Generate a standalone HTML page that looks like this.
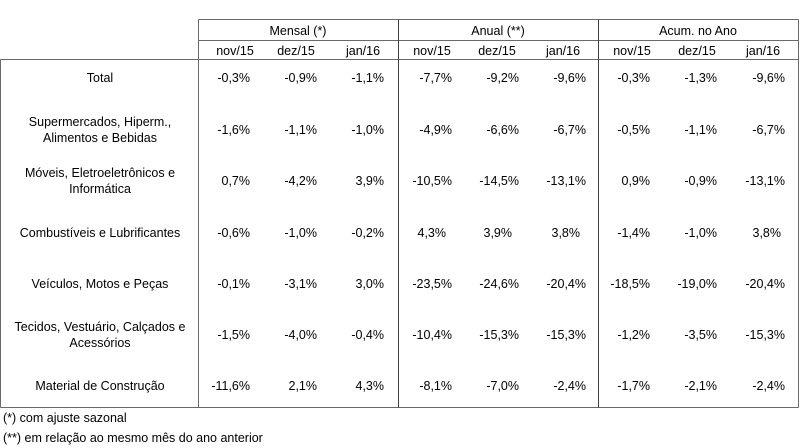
<!DOCTYPE html>
<html><head><meta charset="utf-8"><style>
html,body{margin:0;padding:0;background:#fff;}
svg{display:block;font-family:"Liberation Sans",Arial,sans-serif;font-size:12.5px;fill:#000;}
</style></head><body>
<svg width="800" height="448" viewBox="0 0 800 448">
<g stroke="#6a6a6a" stroke-width="1" fill="none">
<line x1="198.5" y1="19.5" x2="798.5" y2="19.5"/>
<line x1="198.5" y1="40.5" x2="798.5" y2="40.5"/>
<line x1="0.5" y1="59.5" x2="798.5" y2="59.5"/>
<line x1="0.5" y1="407.5" x2="798.5" y2="407.5"/>
<line x1="0.5" y1="59.5" x2="0.5" y2="407.5"/>
<line x1="198.5" y1="19.5" x2="198.5" y2="407.5"/>
<line x1="398.5" y1="19.5" x2="398.5" y2="407.5" stroke="#404040"/>
<line x1="598.5" y1="19.5" x2="598.5" y2="407.5" stroke="#404040"/>
<line x1="798.5" y1="19.5" x2="798.5" y2="407.5"/>
</g>
<g text-anchor="middle">
<text x="298" y="35">Mensal (*)</text>
<text x="498" y="35">Anual (**)</text>
<text x="698" y="35">Acum. no Ano</text>
</g>
<g text-anchor="middle">
<text x="235" y="55">nov/15</text><text x="296" y="55">dez/15</text><text x="363" y="55">jan/16</text>
<text x="432" y="55">nov/15</text><text x="497" y="55">dez/15</text><text x="563" y="55">jan/16</text>
<text x="632" y="55">nov/15</text><text x="697" y="55">dez/15</text><text x="763" y="55">jan/16</text>
</g>
<g text-anchor="middle">
<text x="100" y="82">Total</text>
<text x="100" y="126">Supermercados, Hiperm.,</text><text x="100" y="142">Alimentos e Bebidas</text>
<text x="100" y="177">Móveis, Eletroeletrônicos e</text><text x="100" y="193">Informática</text>
<text x="100" y="237">Combustíveis e Lubrificantes</text>
<text x="100" y="288">Veículos, Motos e Peças</text>
<text x="100" y="331">Tecidos, Vestuário, Calçados e</text><text x="100" y="347">Acessórios</text>
<text x="100" y="390">Material de Construção</text>
</g>
<g text-anchor="end">
<g><text x="250" y="82">-0,3%</text><text x="317" y="82">-0,9%</text><text x="384" y="82">-1,1%</text><text x="452" y="82">-7,7%</text><text x="519" y="82">-9,2%</text><text x="586" y="82">-9,6%</text><text x="650" y="82">-0,3%</text><text x="717" y="82">-1,3%</text><text x="785" y="82">-9,6%</text></g>
<g><text x="250" y="134">-1,6%</text><text x="317" y="134">-1,1%</text><text x="384" y="134">-1,0%</text><text x="452" y="134">-4,9%</text><text x="519" y="134">-6,6%</text><text x="586" y="134">-6,7%</text><text x="650" y="134">-0,5%</text><text x="717" y="134">-1,1%</text><text x="785" y="134">-6,7%</text></g>
<g><text x="250" y="185">0,7%</text><text x="317" y="185">-4,2%</text><text x="384" y="185">3,9%</text><text x="452" y="185">-10,5%</text><text x="519" y="185">-14,5%</text><text x="586" y="185">-13,1%</text><text x="650" y="185">0,9%</text><text x="717" y="185">-0,9%</text><text x="785" y="185">-13,1%</text></g>
<g><text x="250" y="237">-0,6%</text><text x="317" y="237">-1,0%</text><text x="384" y="237">-0,2%</text><text x="446" y="237">4,3%</text><text x="512" y="237">3,9%</text><text x="580" y="237">3,8%</text><text x="650" y="237">-1,4%</text><text x="717" y="237">-1,0%</text><text x="781" y="237">3,8%</text></g>
<g><text x="250" y="288">-0,1%</text><text x="317" y="288">-3,1%</text><text x="384" y="288">3,0%</text><text x="452" y="288">-23,5%</text><text x="519" y="288">-24,6%</text><text x="586" y="288">-20,4%</text><text x="650" y="288">-18,5%</text><text x="717" y="288">-19,0%</text><text x="785" y="288">-20,4%</text></g>
<g><text x="250" y="339">-1,5%</text><text x="317" y="339">-4,0%</text><text x="384" y="339">-0,4%</text><text x="452" y="339">-10,4%</text><text x="519" y="339">-15,3%</text><text x="586" y="339">-15,3%</text><text x="650" y="339">-1,2%</text><text x="717" y="339">-3,5%</text><text x="785" y="339">-15,3%</text></g>
<g><text x="250" y="390">-11,6%</text><text x="317" y="390">2,1%</text><text x="384" y="390">4,3%</text><text x="452" y="390">-8,1%</text><text x="519" y="390">-7,0%</text><text x="586" y="390">-2,4%</text><text x="650" y="390">-1,7%</text><text x="717" y="390">-2,1%</text><text x="785" y="390">-2,4%</text></g>
</g>
<text x="3" y="422">(*) com ajuste sazonal</text>
<text x="3" y="442">(**) em relação ao mesmo mês do ano anterior</text>
</svg>
</body></html>
